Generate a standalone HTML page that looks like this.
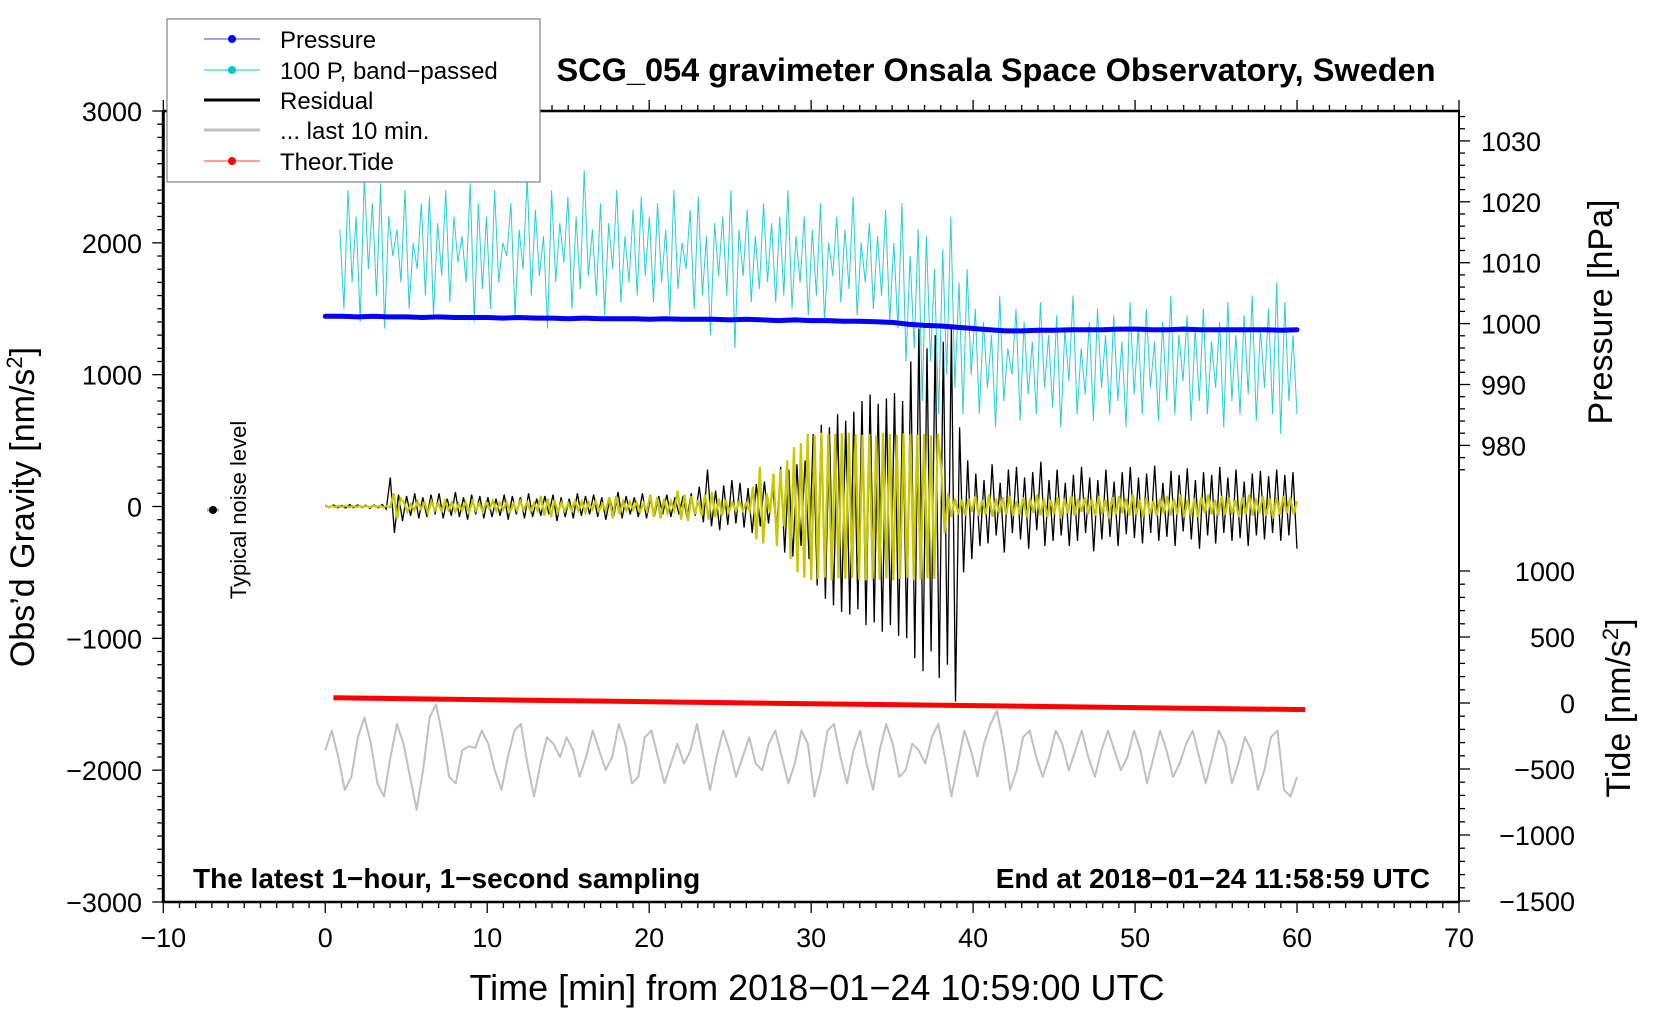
<!DOCTYPE html>
<html><head><meta charset="utf-8">
<style>
html,body{margin:0;padding:0;background:#fff;}
svg{display:block;font-family:"Liberation Sans",Arial,sans-serif;}
</style></head>
<body>
<svg id="chart" width="1660" height="1020" viewBox="0 0 1660 1020">
  <rect x="0" y="0" width="1660" height="1020" fill="#fff"/>
  <g id="series"></g>
  <g id="axes"></g>
  <text x="996" y="81" text-anchor="middle" font-size="32.5" font-weight="bold">SCG_054 gravimeter Onsala Space Observatory, Sweden</text>
  <text x="193" y="888" font-size="28" font-weight="bold">The latest 1−hour, 1−second sampling</text>
  <text x="1430" y="888" text-anchor="end" font-size="28" font-weight="bold">End at 2018−01−24 11:58:59 UTC</text>
  <text x="817" y="1000" text-anchor="middle" font-size="36">Time [min] from 2018−01−24 10:59:00 UTC</text>
  <text transform="translate(34,507) rotate(-90)" text-anchor="middle" font-size="34">Obs’d Gravity [nm/s<tspan dy="-12" font-size="22">2</tspan><tspan dy="12">]</tspan></text>
  <text transform="translate(1612,312) rotate(-90)" text-anchor="middle" font-size="34">Pressure [hPa]</text>
  <text transform="translate(1630,708) rotate(-90)" text-anchor="middle" font-size="34">Tide [nm/s<tspan dy="-12" font-size="22">2</tspan><tspan dy="12">]</tspan></text>
  <g>
    <line x1="207" y1="510" x2="219" y2="510" stroke="#aaa" stroke-width="3"/>
    <circle cx="213" cy="510" r="4" fill="#000"/>
    <text transform="translate(246,510) rotate(-90)" text-anchor="middle" font-size="22">Typical noise level</text>
  </g>
  <g>
    <rect x="167" y="19" width="373" height="163" fill="#fff" stroke="#808080" stroke-width="1.2"/>
    <g><line x1="204" y1="39" x2="260" y2="39" stroke="#4040ff" stroke-width="1"/><circle cx="232" cy="39" r="4" fill="#0000ff"/><text x="280" y="48" font-size="24">Pressure</text></g>
    <g><line x1="204" y1="70" x2="260" y2="70" stroke="#00c8c8" stroke-width="1"/><circle cx="232" cy="70" r="4" fill="#00c8c8"/><text x="280" y="79" font-size="24">100 P, band−passed</text></g>
    <g><line x1="204" y1="100" x2="260" y2="100" stroke="#000" stroke-width="3"/><text x="280" y="109" font-size="24">Residual</text></g>
    <g><line x1="204" y1="130" x2="260" y2="130" stroke="#c0c0c0" stroke-width="3"/><text x="280" y="139" font-size="24">... last 10 min.</text></g>
    <g><line x1="204" y1="161" x2="260" y2="161" stroke="#ff4040" stroke-width="1"/><circle cx="232" cy="161" r="4" fill="#ff0000"/><text x="280" y="170" font-size="24">Theor.Tide</text></g>
  </g>
</svg>
<script>
// ---- data ----
const xTickLabels = ["−10","0","10","20","30","40","50","60","70"];
const yTickLabels = ["3000","2000","1000","0","−1000","−2000","−3000"];
const pressureTickLabels = ["1030","1020","1010","1000","990","980"];
const tideTickLabels = ["1000","500","0","−500","−1000","−1500"];

const pressureValues = [1001.2,1001.2,1001.1,1001.2,1001.1,1001.1,1001.0,1001.1,1001.0,1001.0,
1001.0,1000.9,1001.0,1000.9,1000.9,1000.8,1000.9,1000.8,1000.8,1000.8,
1000.7,1000.8,1000.7,1000.7,1000.7,1000.6,1000.7,1000.6,1000.5,1000.6,
1000.5,1000.5,1000.4,1000.4,1000.3,1000.2,999.9,999.7,999.6,999.4,
999.2,999.0,998.8,998.8,998.9,998.9,999.0,999.0,999.0,999.1,
999.1,999.0,999.0,999.1,999.0,999.0,999.0,999.0,999.0,998.9,999.0];

const bandPassedValues = [2100,1500,2400,1700,2200,1400,2500,1800,2300,1600,2450,1350,2200,1900,2100,1700,2400,1500,2000,1800,2300,1600,2350,1450,2150,1750,2400,1550,2200,1850,2050,1700,2450,1400,2300,1650,
2200,1500,2400,1700,2000,1900,2300,1450,2100,1800,2500,1600,2250,1750,2050,1350,2400,1700,2150,1850,2350,1500,2200,1650,2550,1750,2100,1600,2300,1450,2150,1800,2400,1550,2050,1700,2250,1600,2350,1750,
2200,1550,2300,1700,2100,1450,2400,1650,2000,1800,2250,1500,2350,1600,2050,1300,2150,1750,2200,1600,2400,1200,2100,1750,2250,1550,2050,1650,2300,1700,2150,1550,2200,1600,2400,1500,2050,1700,2200,1450,
2100,1600,2300,1400,2000,1750,2200,1550,2100,1650,2350,1450,2000,1700,2150,1500,2050,1600,2250,1400,2000,1350,2300,1100,
1900,1200,2100,800,2050,1100,1800,700,1950,1000,2200,900,1700,700,1800,1000,
1500,700,1400,900,1300,600,1600,800,1200,1000,1500,650,1400,850,1250,700,1550,900,1300,750,
1450,600,1350,950,1600,700,1200,850,1400,650,1500,900,1300,700,1450,800,1250,600,1550,850,
1350,700,1500,900,1250,650,1400,800,1600,700,1300,950,1450,650,1350,800,1500,700,1250,900,
1400,600,1550,800,1300,700,1450,850,1600,650,1350,900,1500,700,1700,550,1550,800,1300,700];

const residualValues = [10,-8,12,-10,8,-12,15,-10,12,-8,10,-15,12,-10,15,-20,
220,-200,90,-110,80,-70,100,-90,
70,-80,90,-60,100,-90,60,-70,110,-80,70,-100,90,-60,80,-90,70,-80,60,-70,90,-100,80,-60,70,-90,100,-80,60,-70,80,-60,90,-110,70,-80,60,-90,100,-70,80,-60,90,-80,70,-100,60,-70,110,-90,80,-60,70,-80,100,-90,60,-70,80,-60,90,-80,70,-60,80,-90,100,-70,
150,-120,280,-150,120,-180,160,-140,200,-130,180,-160,140,-200,170,-150,190,-130,160,-180,
300,-350,280,-380,320,-300,350,-400,
550,-600,620,-700,600,-750,700,-800,650,-820,720,-780,
800,-900,850,-880,780,-950,820,-900,860,-980,800,-1000,
1100,-1150,1350,-1250,1200,-1100,1300,-1300,1250,-1200,1350,-1480,
600,-500,350,-400,
250,-300,200,-280,320,-220,180,-350,280,-200,300,-250,220,-320,260,-180,340,-300,200,-260,
280,-220,180,-300,240,-260,300,-200,220,-340,200,-250,280,-230,190,-300,260,-210,300,-240,
220,-280,250,-200,310,-260,180,-230,270,-300,240,-190,290,-250,200,-320,260,-220,240,-280,
300,-200,220,-260,280,-240,190,-300,250,-220,270,-250,230,-200,280,-260,240,-220,260,-320];

const bandResidualValues = [5,-5,4,-6,5,-4,6,-5,4,-5,5,-6,4,-5,6,-4,5,-5,4,-6,
100,-90,60,
30,-40,20,-30,40,-20,30,-50,40,-30,25,-35,45,-25,30,-40,20,-30,35,-45,
40,-30,25,-40,30,-20,45,-35,30,-25,35,-40,20,-30,40,-25,30,-35,25,-30,
80,-70,60,-80,50,-40,30,-35,25,-30,40,-30,35,-45,30,-25,40,-35,20,-30,
70,-90,80,-60,40,-30,35,-25,30,-40,25,-35,90,-80,70,-90,60,-50,40,-30,
120,-100,90,-110,80,-60,50,-70,90,-100,110,-80,60,-70,50,-40,
30,-35,40,-30,25,-35,
150,-250,300,-280,100,-50,250,-300,280,-150,
350,-400,450,-500,480,
-540,550,-560,540,-550,560,-540,550,-560,550,-545,555,-550,560,-540,550,-555,545,-560,550,
-550,540,-555,560,-545,550,-560,545,-550,555,-540,550,-560,545,-555,550,-545,540,-550,555,
300,-200,100,-80,60,
-60,50,-70,60,-40,80,-70,50,-60,90,-80,60,-50,70,-60,80,-70,40,-60,70,
-80,60,-50,90,-70,60,-80,50,-60,70,-90,60,-50,80,-70,60,-40,70,-60,50,
-70,80,-60,50,-90,70,-60,80,-50,60,-70,90,-60,50,-80,70,-60,40,-70,60,
-50,80,-70,60,-60,90,-80,50,-70,60,-80,70,-50,90,-60,50,-70,80,-60,70,
-60,50,-80,70,-60,90,-70,60,-50,80,-70,60,-90,70,-60,80,-50,70,-60,40];

const lastTenValues = [-1850,-1700,-1900,-2150,-2050,-1750,-1600,-1800,-2100,-2200,-1900,-1650,-1800,-2050,-2300,-2000,-1600,-1500,-1750,-2050,-2100,-1850,-1820,-1830,-1700,-1800,-2000,-2150,-1900,-1700,-1650,-1950,-2200,-1950,-1750,-1800,-1900,-1750,-1850,-2050,-1900,-1700,-1850,-2000,-1900,-1650,-1800,-2100,-2050,-1750,-1700,-1900,-2100,-1950,-1800,-1950,-1850,-1650,-1900,-2150,-1900,-1700,-1850,-2050,-1900,-1750,-1950,-2000,-1800,-1700,-1900,-2100,-1950,-1700,-1800,-2200,-2000,-1700,-1650,-1900,-2100,-1850,-1700,-1950,-2150,-1850,-1650,-1800,-2050,-2000,-1800,-1850,-1950,-1750,-1650,-1900,-2200,-1950,-1700,-1850,-2050,-1800,-1650,-1550,-1800,-2150,-2000,-1750,-1700,-1900,-2050,-1900,-1700,-1800,-2000,-1850,-1700,-1900,-2050,-1850,-1700,-1850,-2000,-1900,-1700,-1850,-2100,-1900,-1700,-1850,-2050,-1950,-1800,-1700,-1900,-2100,-1900,-1700,-1800,-2100,-1950,-1750,-1850,-2150,-2000,-1750,-1700,-2150,-2200,-2050];

const tideTimes = [0.5,10,20,30,40,50,60.5];
const tideValues = [40,25,10,-5,-20,-35,-50];

// ---- scales ----
const X0 = 163.3, X1 = 1459;
function xs(t){ return X0 + (t + 10) / 80 * (X1 - X0); }
const Y0 = 111, Y1 = 902;
function ys(g){ return Y0 + (3000 - g) / 6000 * (Y1 - Y0); }
function ps(p){ return 323.6 - (p - 1000) * 6.09; }
function ts(v){ return 703 - v * 0.132; }

const NS = "http://www.w3.org/2000/svg";
const series = document.getElementById("series");
const axes = document.getElementById("axes");
function mk(tag, attrs, parent){
  const e = document.createElementNS(NS, tag);
  for (const k in attrs) e.setAttribute(k, attrs[k]);
  parent.appendChild(e);
  return e;
}
function pts(vals, t0, t1, yf){
  const dt = (t1 - t0) / (vals.length - 1);
  return vals.map((v,i) => xs(t0 + i*dt).toFixed(1) + "," + yf(v).toFixed(1)).join(" ");
}

let el = mk("polyline", {points: pts(bandPassedValues, 0.9, 60, ys), fill:"none", stroke:"#00c8c8", "stroke-width":"1", "stroke-opacity":"0.85"}, series);



el = mk("polyline", {points: pts(pressureValues, 0, 60, ps), fill:"none", stroke:"#0000ff", "stroke-width":"5", "stroke-linecap":"round"}, series);



el = mk("polyline", {points: pts(residualValues, 0, 60, ys), fill:"none", stroke:"#000", "stroke-width":"1.3"}, series);



el = mk("polyline", {points: pts(bandResidualValues, 0, 60, ys), fill:"none", stroke:"#c8c800", "stroke-width":"2.2"}, series);



el = mk("polyline", {points: pts(lastTenValues, 0, 60, ys), fill:"none", stroke:"#c0c0c0", "stroke-width":"2", "stroke-linejoin":"round"}, series);



el = mk("polyline", {points: tideTimes.map((t,i)=>xs(t).toFixed(1)+","+ts(tideValues[i]).toFixed(1)).join(" "), fill:"none", stroke:"#ff0000", "stroke-width":"5"}, series);



// ---- axes ----
function line(x1,y1,x2,y2,w,name){
  const e = mk("line", {x1:x1,y1:y1,x2:x2,y2:y2,stroke:"#000","stroke-width":w}, axes);
  
  
  return e;
}
line(X0, Y0-1, X0, Y1+1, 3, "left-axis-line");
line(X1, Y0-1, X1, Y1+1, 2, "right-axis-line");
line(X0, Y0, X1, Y0, 2.5, "top-axis-line");
line(X0, Y1, X1, Y1, 2.5, "bottom-axis-line");

for (let m = -10; m <= 70; m++){
  const x = xs(m), major = (m % 10 === 0);
  line(x, Y1, x, Y1 + (major ? 11 : 6), 1.3, "x-tick");
  line(x, Y0, x, Y0 - (major ? 11 : 6), 1.3, "top-x-tick");
}
xTickLabels.forEach((lab,i) => {
  const t = mk("text", {x: xs(-10 + i*10), y: 947, "text-anchor":"middle", "font-size":"27"}, axes);
  t.textContent = lab;
  
  
});
for (let g = -3000; g <= 3000; g += 100){
  const major = (g % 1000 === 0);
  line(X0 - (major ? 11 : 6), ys(g), X0, ys(g), 1.3, "y-tick");
}
yTickLabels.forEach((lab,i) => {
  const t = mk("text", {x: 142, y: ys(3000 - i*1000) + 10, "text-anchor":"end", "font-size":"27"}, axes);
  t.textContent = lab;
  
  
});
for (let p = 976; p <= 1034; p += 2){
  const major = (p % 10 === 0);
  line(X1, ps(p), X1 + (major ? 11 : 6), ps(p), 1.3, "pressure-tick");
}
pressureTickLabels.forEach((lab,i) => {
  const t = mk("text", {x: 1481, y: ps(1030 - i*10) + 10, "font-size":"27"}, axes);
  t.textContent = lab;
  
  
});
for (let v = -1500; v <= 1000; v += 100){
  const major = (v % 500 === 0);
  line(X1, ts(v), X1 + (major ? 11 : 6), ts(v), 1.3, "tide-tick");
}
tideTickLabels.forEach((lab,i) => {
  const t = mk("text", {x: 1575, y: ts(1000 - i*500) + 10, "text-anchor":"end", "font-size":"27"}, axes);
  t.textContent = lab;
  
  
});
</script>
</body></html>
